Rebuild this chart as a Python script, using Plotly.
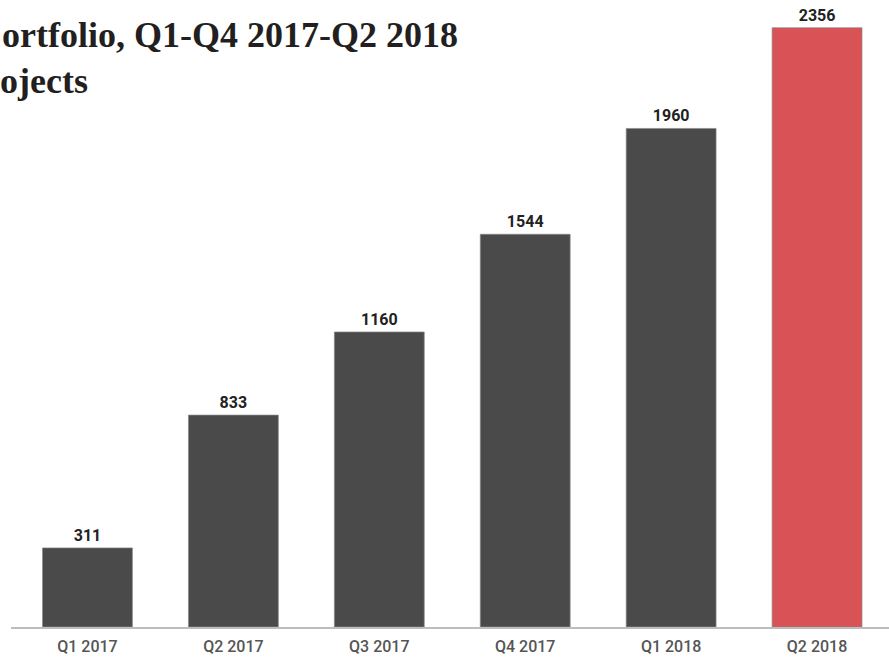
import plotly.graph_objects as go

quarters = ["Q1 2017", "Q2 2017", "Q3 2017", "Q4 2017", "Q1 2018", "Q2 2018"]
projects = [311, 833, 1160, 1544, 1960, 2356]
bar_colors = ["#4a4a4a", "#4a4a4a", "#4a4a4a", "#4a4a4a", "#4a4a4a", "#d95255"]
title_line1 = "ortfolio, Q1-Q4 2017-Q2 2018"
title_line2 = "ojects"

W, H = 889, 657
ML, MR, MT, MB = 11, 0, 0, 30

fig = go.Figure(
    go.Bar(
        x=quarters,
        y=projects,
        marker=dict(color=bar_colors, line=dict(color="#8a8a8a", width=0.7)),
        text=[str(v) for v in projects],
        textposition="outside",
        textfont=dict(family="Roboto", size=16, color="#222222", weight="bold"),
        cliponaxis=False,
        width=0.616,
        hoverinfo="skip",
    )
)

fig.update_layout(
    width=W,
    height=H,
    margin=dict(l=ML, r=MR, t=MT, b=MB),
    paper_bgcolor="white",
    plot_bgcolor="white",
    showlegend=False,
    xaxis=dict(
        range=[-0.524, 5.493],
        showline=True,
        linecolor="#bdbdbd",
        linewidth=2,
        showgrid=False,
        ticks="",
        ticklabelstandoff=4,
        tickfont=dict(family="Roboto", size=16, color="#555555", weight=500),
        fixedrange=True,
    ),
    yaxis=dict(
        range=[0, 2465],
        visible=False,
        showgrid=False,
        zeroline=False,
        fixedrange=True,
    ),
    annotations=[
        dict(
            text=title_line1,
            xref="paper", yref="paper",
            x=-ML / (W - ML - MR), y=1.0,
            xanchor="left", yanchor="top",
            yshift=-13,
            showarrow=False,
            font=dict(family="Liberation Serif", size=36, color="#231f20", weight="bold"),
        ),
        dict(
            text=title_line2,
            xref="paper", yref="paper",
            x=-ML / (W - ML - MR), y=1.0,
            xanchor="left", yanchor="top",
            xshift=-2,
            yshift=-59,
            showarrow=False,
            font=dict(family="Liberation Serif", size=36, color="#231f20", weight="bold"),
        ),
    ],
)

fig.write_html(
    "out.html",
    config={"displayModeBar": False},
    post_script="document.body.style.margin='0';document.body.style.overflow='hidden';",
)
